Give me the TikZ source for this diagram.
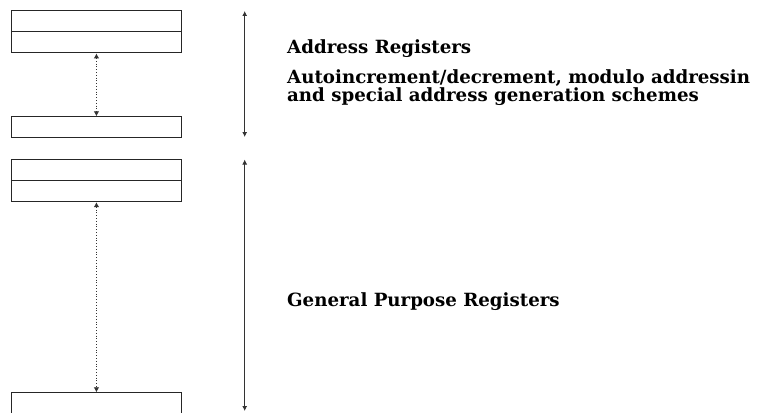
\documentclass[tikz,border=0pt]{standalone}
\usepackage{fontspec}
\usetikzlibrary{arrows.meta}
\newfontfamily\lblfont{DejaVu Serif}
\begin{document}
\begin{tikzpicture}[x=1pt,y=-1pt,
  reg/.style={draw=black!85,line width=0.9pt,minimum width=170pt,minimum height=21pt,inner sep=0pt,anchor=north west},
  span/.style={line width=0.9pt,black!80,{Latex[length=5pt,width=5pt]}-{Latex[length=5pt,width=5pt]}},
  dotarrow/.style={line width=0.8pt,black!80,dotted,{Latex[length=5pt,width=5.5pt]}-{Latex[length=5pt,width=5.5pt]}},
  lbl/.style={font=\lblfont\fontsize{18.2}{15}\selectfont\bfseries,inner sep=0pt,anchor=base west,align=left}]
\useasboundingbox (0,0) rectangle (757,412);
% address registers
\node[reg] (a1) at (11,10.5) {};
\node[reg] (a2) at (11,31.5) {};
\node[reg] (a3) at (11,116.3) {};
\draw[dotarrow] (a2.south) -- (a3.north);
\coordinate (at) at (244.7,11);
\coordinate (ab) at (244.7,137);
\draw[span] (at) -- (ab);
% general purpose registers
\node[reg] (g1) at (11,159.3) {};
\node[reg] (g2) at (11,180.3) {};
\node[reg] (g3) at (11,392.3) {};
\draw[dotarrow] (g2.south) -- (g3.north);
\coordinate (gt) at (244.7,159.5);
\coordinate (gb) at (244.7,411);
\draw[span] (gt) -- (gb);
% labels
\node[lbl] (t1) at (287,53.3) {Address Registers};
\node[lbl] (t2) at (287,101.7) {Autoincrement/decrement, modulo addressin\\and special address generation schemes};
\node[lbl] (t3) at (287,306.7) {General Purpose Registers};
\end{tikzpicture}
\end{document}
